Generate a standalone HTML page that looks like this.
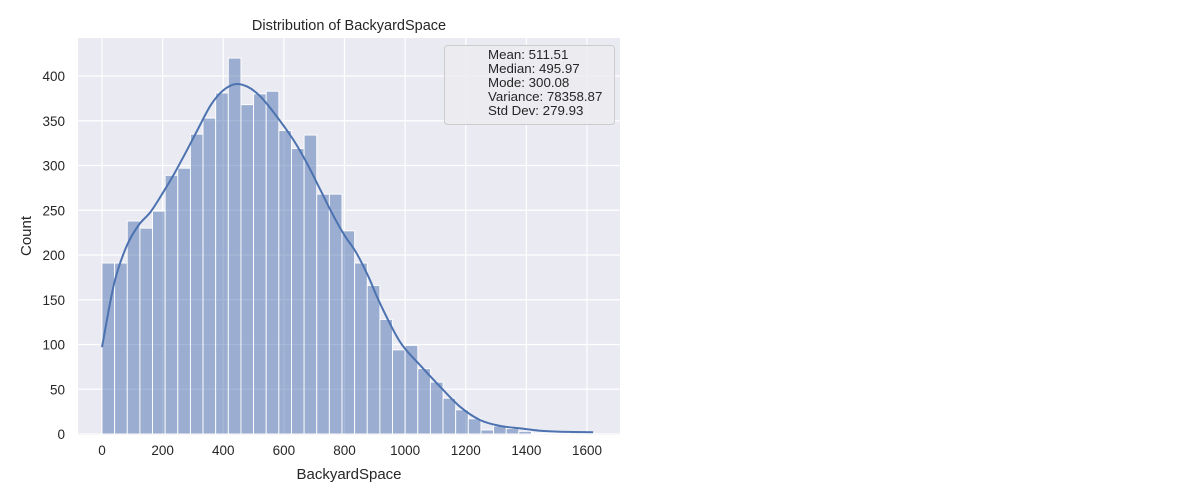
<!DOCTYPE html>
<html><head><meta charset="utf-8"><style>
body{margin:0;background:#fff;}
svg{display:block;font-family:"Liberation Sans","DejaVu Sans",sans-serif;}
</style></head><body>
<svg id="chart" width="1200" height="500">
<rect x="78" y="38" width="542" height="397" fill="#eaeaf2"/>
<g id="grid"></g><g id="bars"></g><g id="kde"></g><g id="ticks"></g>
<text x="349" y="30" text-anchor="middle" font-size="14.5" fill="#262626">Distribution of BackyardSpace</text>
<text x="349" y="479" text-anchor="middle" font-size="15" fill="#262626">BackyardSpace</text>
<text transform="translate(31,236) rotate(-90)" text-anchor="middle" font-size="15" fill="#262626">Count</text>
<g>
<rect x="444.5" y="45.5" width="170" height="79" rx="3" fill="#ebebf0" fill-opacity="0.85" stroke="#cccccc"/>
<text x="488" y="59" font-size="13.3" fill="#262626">Mean: 511.51</text>
<text x="488" y="73" font-size="13.3" fill="#262626">Median: 495.97</text>
<text x="488" y="87" font-size="13.3" fill="#262626">Mode: 300.08</text>
<text x="488" y="101" font-size="13.3" fill="#262626">Variance: 78358.87</text>
<text x="488" y="115" font-size="13.3" fill="#262626">Std Dev: 279.93</text>
</g>
</svg>
<script>
const binWidth = 41.67;
const counts = [191,191,238,230,249,289,297,335,353,381,420,368,380,383,339,319,334,268,268,227,191,166,128,94,99,73,58,40,27,17,4.5,9,6,3,1,1,1,0,1];
const kdeX = [0,40,80,120,160,200,240,280,320,360,400,440,480,520,560,600,640,680,720,760,800,838,880,917,983,1049,1115,1181,1247,1313,1380,1445,1511,1620];
const kdeY = [97,168,209,233,248,269,292,317,343,368,384,391,388,378,362,344,324,300,273,246,222,203,175,146,103,77,53,30.5,15.6,9,6.3,3.7,2.6,2];
const xTicks = [0,200,400,600,800,1000,1200,1400,1600];
const yTicks = [0,50,100,150,200,250,300,350,400];

const NS = "http://www.w3.org/2000/svg";
const xs = v => 102 + v * 0.303125;
const ys = v => 434 - v * 0.895;
function mk(tag, attrs, parent){const e=document.createElementNS(NS,tag);for(const k in attrs)e.setAttribute(k,attrs[k]);document.getElementById(parent).appendChild(e);return e;}

xTicks.forEach(t=>{
  const g=mk('line',{x1:xs(t),x2:xs(t),y1:38,y2:435,stroke:'#fff','stroke-width':1.2},'grid');
  
  
  const l=mk('text',{x:xs(t),y:455,'text-anchor':'middle','font-size':13.5,fill:'#262626'},'ticks');
  l.textContent=t;
  
  
});
yTicks.forEach(t=>{
  const g=mk('line',{x1:78,x2:620,y1:ys(t),y2:ys(t),stroke:'#fff','stroke-width':1.2},'grid');
  
  
  const l=mk('text',{x:65,y:ys(t)+5,'text-anchor':'end','font-size':13.5,fill:'#262626'},'ticks');
  l.textContent=t;
  
  
});
counts.forEach((c,i)=>{
  const x0=xs(i*binWidth), x1=xs((i+1)*binWidth);
  const b=mk('rect',{x:x0,y:ys(c),width:x1-x0,height:ys(0)-ys(c),fill:'rgba(76,114,176,0.5)',stroke:'#fff','stroke-width':0.9},'bars');
  
  
});
const P=kdeX.map((x,i)=>[xs(x),ys(kdeY[i])]);
let d='M'+P[0][0].toFixed(1)+','+P[0][1].toFixed(1);
for(let i=0;i<P.length-1;i++){
  const p0=P[Math.max(0,i-1)],p1=P[i],p2=P[i+1],p3=P[Math.min(P.length-1,i+2)];
  const c1=[p1[0]+(p2[0]-p0[0])/6,p1[1]+(p2[1]-p0[1])/6];
  const c2=[p2[0]-(p3[0]-p1[0])/6,p2[1]-(p3[1]-p1[1])/6];
  d+='C'+c1.map(v=>v.toFixed(1)).join(',')+' '+c2.map(v=>v.toFixed(1)).join(',')+' '+p2.map(v=>v.toFixed(1)).join(',');
}
const p=mk('path',{d:d,fill:'none',stroke:'#4c72b0','stroke-width':2,'stroke-linejoin':'round'},'kde');


</script>
</body></html>
